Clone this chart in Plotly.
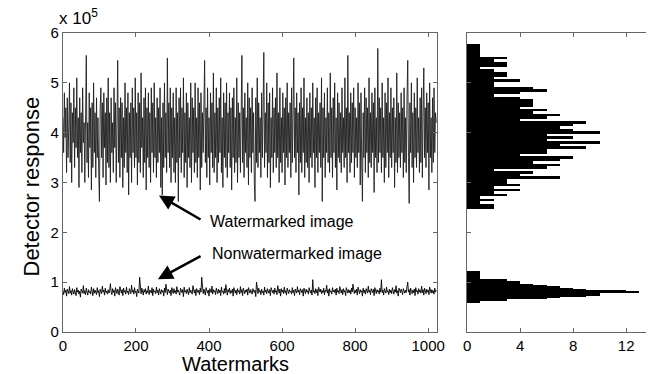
import plotly.graph_objects as go

# ---------------- data (detector response, in units of 1e5) ----------------
watermarked_e5 = [
    4.3, 3.6, 4.8, 3.9, 4.5, 3.2, 4.7, 3.5, 4.1, 5.0, 3.4, 4.6, 3.0, 4.4, 3.8, 4.9,
    3.3, 4.5, 3.7, 5.1, 3.5, 4.3, 2.9, 4.7, 3.6, 4.4, 3.2, 4.9, 3.8, 4.2, 3.0, 4.6,
    5.55, 3.4, 4.2, 3.1, 4.8, 3.7, 4.5, 2.85, 4.6, 3.3, 5.0, 3.6, 4.4, 3.1, 4.7, 3.5,
    4.3, 3.2, 2.62, 4.5, 4.9, 3.5, 4.6, 3.1, 4.8, 3.7, 4.4, 2.95, 4.7, 3.4, 5.1, 3.3,
    4.4, 3.0, 4.7, 3.6, 4.2, 3.2, 4.9, 3.7, 4.6, 3.0, 4.8, 5.45, 3.4, 4.5, 3.1, 4.7,
    3.5, 4.6, 2.9, 4.3, 3.3, 5.0, 3.6, 4.5, 3.2, 4.8, 2.75, 4.4, 3.5, 4.6, 3.0, 4.9,
    3.6, 4.5, 3.3, 5.1, 3.5, 4.4, 2.95, 4.8, 3.4, 4.6, 3.2, 5.2, 3.7, 4.3, 3.1, 4.7,
    3.4, 4.9, 2.85, 4.5, 3.5, 4.8, 3.3, 4.4, 3.0, 4.9, 3.6, 4.6, 3.2, 5.0, 3.5, 4.3,
    3.1, 4.7, 3.4, 4.5, 3.6, 4.9, 2.9, 4.3, 2.75, 4.6, 3.3, 5.0, 3.5, 4.4, 3.2, 5.5,
    3.6, 4.6, 3.3, 4.9, 3.0, 4.5, 3.5, 4.8, 3.2, 4.3, 3.0, 4.9, 3.4, 4.4, 2.62, 4.7,
    3.5, 4.9, 3.2, 4.5, 3.6, 5.1, 3.1, 4.4, 3.4, 4.8, 2.9, 4.6, 3.5, 4.3, 3.3, 5.0,
    3.0, 4.7, 3.6, 4.5, 3.2, 5.0, 3.4, 4.3, 3.1, 4.9, 3.5, 4.6, 2.85, 4.8, 3.3, 4.4,
    3.6, 4.7, 5.45, 3.4, 4.5, 3.1, 4.9, 3.5, 4.3, 2.95, 4.8, 3.6, 4.6, 3.3, 5.2, 3.2,
    4.4, 3.5, 4.9, 3.0, 4.5, 3.4, 4.7, 3.6, 5.1, 3.2, 4.3, 2.9, 4.8, 3.5, 4.6, 3.3,
    5.0, 3.1, 4.4, 3.6, 4.8, 3.3, 4.5, 2.85, 4.7, 3.5, 4.9, 3.2, 4.3, 3.4, 5.1, 3.0,
    4.6, 3.5, 4.4, 3.2, 4.9, 5.55, 3.4, 4.5, 3.1, 4.8, 3.6, 4.3, 3.3, 5.0, 2.95, 4.7,
    3.5, 4.5, 3.2, 4.9, 3.6, 4.4, 3.0, 2.62, 4.7, 3.4, 5.1, 3.3, 4.6, 3.6, 4.3, 3.1,
    4.8, 3.5, 4.5, 5.61, 3.3, 4.4, 3.6, 5.0, 3.1, 4.6, 3.4, 4.8, 2.9, 4.3, 3.5, 4.9,
    3.2, 4.5, 3.6, 4.7, 3.3, 5.2, 3.5, 4.4, 3.0, 4.9, 3.4, 4.3, 3.2, 4.8, 3.6, 4.5,
    2.95, 4.7, 3.5, 5.0, 3.3, 4.4, 3.6, 4.6, 3.1, 4.9, 3.4, 4.3, 5.5, 3.5, 4.5, 3.2,
    4.8, 3.6, 4.4, 2.75, 4.6, 3.4, 4.9, 3.2, 4.5, 3.6, 5.1, 3.1, 4.3, 3.4, 4.7, 3.3,
    4.4, 3.0, 4.8, 3.5, 4.5, 3.3, 5.0, 3.6, 4.3, 2.9, 4.7, 3.5, 4.9, 3.2, 4.4, 3.6,
    4.6, 3.3, 5.1, 2.62, 4.5, 3.5, 4.8, 3.1, 4.3, 3.6, 4.9, 3.4, 4.4, 3.2, 5.2, 3.5,
    4.5, 3.1, 4.7, 3.6, 5.0, 3.3, 4.3, 2.85, 4.8, 3.5, 4.6, 3.4, 4.4, 3.2, 4.9, 3.6,
    4.3, 3.3, 5.1, 3.5, 4.5, 3.0, 5.55, 3.6, 4.4, 3.2, 4.8, 3.4, 4.6, 3.6, 4.9, 3.1,
    4.5, 3.5, 4.3, 3.3, 5.0, 3.6, 4.6, 2.95, 4.8, 3.4, 2.62, 4.4, 3.5, 4.9, 3.2, 4.7,
    3.6, 4.5, 3.1, 5.1, 3.4, 4.4, 3.3, 4.8, 3.6, 4.6, 2.8, 4.9, 3.5, 4.3, 3.2, 5.69,
    3.4, 4.7, 3.6, 4.5, 3.2, 5.0, 3.5, 4.3, 3.0, 4.8, 3.3, 4.6, 3.6, 5.1, 3.1, 4.4,
    3.5, 4.9, 3.3, 4.5, 3.6, 4.7, 2.9, 4.3, 3.4, 5.2, 3.2, 4.6, 3.5, 4.4, 3.3, 4.8,
    3.6, 4.5, 3.1, 4.9, 3.4, 4.3, 3.2, 4.7, 5.45, 3.5, 2.58, 4.6, 3.6, 5.0, 3.3, 4.4,
    3.0, 4.8, 3.5, 4.5, 3.3, 5.1, 3.6, 4.3, 3.2, 4.7, 3.4, 4.9, 3.1, 4.4, 5.3, 3.5,
    4.5, 3.3, 4.8, 3.6, 4.6, 2.85, 5.0, 3.5, 4.3, 3.2, 4.7, 3.4, 4.9, 3.6, 4.4, 4.2,
]

nonwatermarked_e5 = [
    0.82, 0.75, 0.88, 0.79, 0.84, 0.72, 0.86, 0.80, 0.77, 0.91, 0.78, 0.83, 0.74, 0.87, 0.81, 0.76,
    0.85, 0.79, 0.73, 0.89, 0.80, 0.84, 0.76, 0.82, 0.70, 0.86, 0.81, 0.78, 0.93, 0.77, 0.83, 0.75,
    0.88, 0.80, 0.74, 0.85, 0.79, 0.82, 0.76, 0.90, 0.81, 0.73, 0.87, 0.78, 0.84, 0.80, 0.75, 0.89,
    0.79, 0.83, 0.71, 0.86, 0.81, 0.77, 0.92, 0.80, 0.84, 0.74, 0.88, 0.79, 0.82, 0.76, 0.85, 0.78,
    0.83, 0.97, 0.80, 0.75, 0.87, 0.79, 0.84, 0.72, 0.89, 0.81, 0.77, 0.86, 0.80, 0.74, 0.91, 0.82,
    0.78, 0.85, 0.73, 0.88, 0.80, 0.83, 0.76, 0.90, 0.79, 0.82, 0.75, 0.87, 0.81, 0.77, 0.94, 0.80,
    0.84, 0.76, 0.89, 0.79, 0.82, 0.71, 0.86, 0.80, 0.78, 1.10, 0.83, 0.77, 0.88, 0.81, 0.74, 0.85,
    0.80, 0.87, 0.76, 0.83, 0.79, 0.92, 0.75, 0.84, 0.81, 0.78, 0.89, 0.73, 0.86, 0.80, 0.82, 0.77,
    0.90, 0.79, 0.84, 0.74, 0.87, 0.81, 0.76, 0.85, 0.80, 0.83, 0.72, 0.88, 0.79, 0.96, 0.82, 0.75,
    0.86, 0.80, 0.78, 0.84, 0.73, 0.89, 0.81, 0.77, 0.87, 0.79, 0.83, 0.76, 0.91, 0.80, 0.84, 0.78,
    0.74, 0.88, 0.82, 0.79, 0.85, 0.71, 0.90, 0.80, 0.83, 0.77, 0.86, 0.81, 0.75, 0.89, 0.79, 0.84,
    0.80, 0.76, 0.93, 0.82, 0.78, 0.85, 0.73, 0.87, 0.81, 0.79, 0.84, 0.75, 0.88, 0.80, 1.10, 0.83,
    0.77, 0.86, 0.80, 0.74, 0.89, 0.82, 0.78, 0.84, 0.72, 0.87, 0.81, 0.79, 0.92, 0.76, 0.85, 0.80,
    0.83, 0.75, 0.88, 0.81, 0.77, 0.86, 0.79, 0.84, 0.73, 0.90, 0.80, 0.82, 0.76, 0.87, 0.78, 0.95,
    0.81, 0.74, 0.85, 0.80, 0.88, 0.77, 0.83, 0.79, 0.86, 0.72, 0.89, 0.81, 0.78, 0.84, 0.75, 0.87,
    0.80, 0.83, 0.76, 0.91, 0.79, 0.85, 0.73, 0.88, 0.82, 0.77, 0.84, 0.80, 0.86, 0.74, 0.89, 0.81,
    0.78, 0.85, 0.80, 0.76, 0.87, 0.82, 0.79, 0.84, 0.71, 1.00, 0.81, 0.77, 0.88, 0.80, 0.83, 0.75,
    0.86, 0.79, 0.82, 0.74, 0.90, 0.80, 0.84, 0.77, 0.87, 0.81, 0.78, 0.85, 0.73, 0.89, 0.82, 0.79,
    0.84, 0.76, 0.88, 0.80, 0.83, 0.75, 0.93, 0.81, 0.78, 0.86, 0.72, 0.87, 0.80, 0.84, 0.77, 0.90,
    0.79, 0.83, 0.74, 0.88, 0.81, 0.77, 0.85, 0.80, 0.82, 0.76, 0.89, 0.79, 0.84, 0.73, 0.86, 0.81,
    0.78, 0.91, 0.80, 0.84, 0.75, 0.87, 0.82, 0.79, 0.85, 0.72, 0.88, 0.81, 0.77, 0.86, 0.80, 0.83,
    0.76, 0.89, 0.81, 0.78, 0.84, 0.74, 1.05, 0.80, 0.83, 0.77, 0.87, 0.79, 0.85, 0.73, 0.90, 0.82,
    0.80, 0.86, 0.77, 0.83, 0.79, 0.88, 0.75, 0.84, 0.81, 0.94, 0.78, 0.85, 0.72, 0.87, 0.80, 0.82,
    0.76, 0.89, 0.81, 0.84, 0.79, 0.86, 0.74, 0.88, 0.80, 0.83, 0.77, 0.91, 0.82, 0.78, 0.85, 0.75,
    0.87, 0.80, 0.83, 0.73, 0.89, 0.81, 0.78, 0.85, 0.79, 0.84, 0.76, 0.88, 0.80, 0.96, 0.82, 0.77,
    0.84, 0.79, 0.86, 0.74, 0.90, 0.81, 0.77, 0.85, 0.80, 0.83, 0.72, 0.88, 0.79, 0.84, 0.76, 0.87,
    0.81, 0.78, 0.92, 0.80, 0.84, 0.75, 0.87, 0.82, 0.79, 0.86, 0.73, 0.89, 0.81, 0.77, 0.85, 0.80,
    0.83, 0.76, 0.88, 0.80, 1.05, 0.79, 0.84, 0.74, 0.87, 0.81, 0.78, 0.90, 0.80, 0.83, 0.75, 0.86,
    0.79, 0.84, 0.77, 0.89, 0.81, 0.76, 0.85, 0.80, 0.93, 0.78, 0.83, 0.72, 0.88, 0.81, 0.79, 0.86,
    0.80, 0.75, 0.87, 0.82, 0.78, 0.84, 0.79, 0.91, 1.00, 0.80, 0.85, 0.74, 0.88, 0.81, 0.77, 0.84,
    0.79, 0.86, 0.73, 0.89, 0.81, 0.83, 0.76, 0.87, 0.80, 0.84, 0.78, 0.92, 0.79, 0.85, 0.74, 0.88,
    0.82, 0.77, 0.86, 0.80, 0.84, 0.75, 0.90, 0.81, 0.78, 0.85, 0.79, 0.83, 0.76, 0.88, 0.80, 0.84,
]

watermark_index = list(range(0, 2 * len(watermarked_e5), 2))

# histogram of watermarked responses (bin centres in 1e5, counts)
wm_bin_centers = [
    2.50, 2.55, 2.60, 2.65, 2.70, 2.75, 2.80, 2.85, 2.90, 2.95,
    3.00, 3.05, 3.10, 3.15, 3.20, 3.25, 3.30, 3.35, 3.40, 3.45,
    3.50, 3.55, 3.60, 3.65, 3.70, 3.75, 3.80, 3.85, 3.90, 3.95,
    4.00, 4.05, 4.10, 4.15, 4.20, 4.25, 4.30, 4.35, 4.40, 4.45,
    4.50, 4.55, 4.60, 4.65, 4.70, 4.75, 4.80, 4.85, 4.90, 4.95,
    5.00, 5.05, 5.10, 5.15, 5.20, 5.25, 5.30, 5.35, 5.40, 5.45,
    5.50, 5.55, 5.60, 5.65, 5.70, 5.75,
]
wm_counts = [
    2, 2, 1, 2, 1, 3, 2, 4, 2, 4,
    3, 3, 7, 4, 5, 2, 6, 7, 5, 7,
    8, 4, 6, 6, 9, 7, 10, 6, 8, 6,
    10, 8, 7, 8, 9, 4, 6, 7, 5, 6,
    4, 5, 5, 5, 4, 2, 4, 6, 5, 2,
    2, 4, 2, 3, 3, 2, 1, 3, 3, 2,
    3, 1, 1, 1, 1, 1,
]

# histogram of nonwatermarked responses
nw_bin_centers = [
    0.600, 0.625, 0.650, 0.675, 0.700, 0.725, 0.750, 0.775, 0.800, 0.825,
    0.850, 0.875, 0.900, 0.925, 0.950, 0.975, 1.000, 1.025, 1.050, 1.075,
    1.100, 1.125, 1.150, 1.175, 1.200,
]
nw_counts = [
    1, 1, 3, 6, 7, 9, 10, 10, 13, 12,
    9, 8, 7, 6, 5, 4, 4, 3, 3, 1,
    1, 1, 1, 1, 1,
]

x_ticks = [0, 200, 400, 600, 800, 1000]
y_ticks = [0, 1, 2, 3, 4, 5, 6]
hist_ticks = [0, 4, 8, 12]

# ---------------- figure ----------------
W, H = 658, 374
FONT = "Liberation Sans, Arial, sans-serif"

fig = go.Figure()
fig.add_trace(go.Scatter(x=watermark_index, y=watermarked_e5, mode="lines",
                         line=dict(color="#1e1e1e", width=0.9), xaxis="x", yaxis="y",
                         showlegend=False))
fig.add_trace(go.Scatter(x=watermark_index, y=nonwatermarked_e5, mode="lines",
                         line=dict(color="#000000", width=0.9), xaxis="x", yaxis="y",
                         showlegend=False))
fig.add_trace(go.Bar(y=wm_bin_centers, x=wm_counts, orientation="h", width=0.05,
                     marker=dict(color="#000000", line=dict(width=0)),
                     xaxis="x2", yaxis="y2", showlegend=False))
fig.add_trace(go.Bar(y=nw_bin_centers, x=nw_counts, orientation="h", width=0.025,
                     marker=dict(color="#000000", line=dict(width=0)),
                     xaxis="x2", yaxis="y2", showlegend=False))

axis_common = dict(showgrid=False, zeroline=False, showline=True, linecolor="#666666",
                   linewidth=1, ticks="inside", ticklen=4, tickcolor="#666666",
                   tickfont=dict(family=FONT, size=15, color="#000000"))

fig.update_layout(
    width=W, height=H,
    margin=dict(l=0, r=0, t=33, b=42),
    paper_bgcolor="white", plot_bgcolor="white",
    bargap=0,
    xaxis=dict(domain=[60 / W, 441 / W], range=[0, 1024], tickvals=x_ticks,
               mirror="ticks", anchor="y", **axis_common),
    yaxis=dict(domain=[0, 1], range=[0, 6], tickvals=y_ticks, mirror="ticks",
               anchor="x", **axis_common),
    xaxis2=dict(domain=[471.7 / W, 654 / W], range=[0, 13.5], tickvals=hist_ticks,
                mirror="ticks", anchor="y2", **axis_common),
    yaxis2=dict(domain=[0, 1], range=[0, 6], tickvals=y_ticks, showticklabels=False,
                anchor="x2", **axis_common),
)

annotations = [
    dict(text="x 10<sup>5</sup>", xref="paper", yref="paper", x=54 / W, y=1 + 3 / 299,
         xanchor="left", yanchor="bottom", showarrow=False,
         font=dict(family=FONT, size=17, color="#000")),
    dict(text="Detector response", xref="paper", yref="paper", x=27 / W, y=(332 - 187) / 299,
         textangle=-90, showarrow=False, xanchor="center", yanchor="middle",
         font=dict(family=FONT, size=22, color="#000")),
    dict(text="Watermarks", xref="paper", yref="paper", x=236 / W, y=-(364 - 332) / 299,
         showarrow=False, xanchor="center", yanchor="middle",
         font=dict(family=FONT, size=20, color="#000")),
    dict(text="Watermarked image", xref="x", yref="y", x=397, y=2.21, xanchor="left",
         yanchor="middle", showarrow=False, font=dict(family=FONT, size=16, color="#000")),
    dict(text="Nonwatermarked image", xref="x", yref="y", x=403, y=1.58, xanchor="left",
         yanchor="middle", showarrow=False, font=dict(family=FONT, size=16, color="#000")),
    dict(text="", xref="x", yref="y", x=263, y=2.74, axref="x", ayref="y", ax=381, ay=2.24,
         showarrow=True, arrowhead=2, arrowsize=1.2, arrowwidth=2.5, arrowcolor="#000"),
    dict(text="", xref="x", yref="y", x=260, y=1.06, axref="x", ayref="y", ax=381, ay=1.54,
         showarrow=True, arrowhead=2, arrowsize=1.2, arrowwidth=2.5, arrowcolor="#000"),
]
fig.update_layout(annotations=annotations)

fig.write_html("out.html")
